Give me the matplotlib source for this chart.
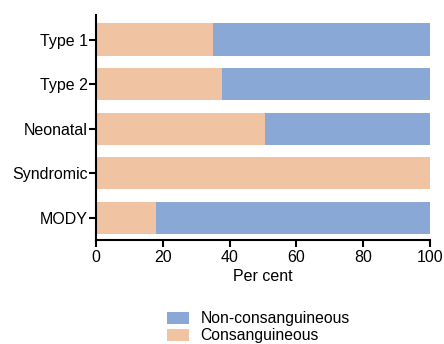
import matplotlib
matplotlib.use("Agg")
import matplotlib.pyplot as plt
import numpy as np

plt.rcParams['font.family'] = ['Liberation Sans', 'DejaVu Sans']

categories = ["Type 1", "Type 2", "Neonatal", "Syndromic", "MODY"]
consanguineous = [35, 37.7, 50.7, 100, 18]
non_consanguineous = [65, 62.3, 49.3, 0, 82]

peach = "#F0C3A3"
blue = "#89A8D6"

fig = plt.figure(figsize=(4.44, 3.44), dpi=100)
ax = fig.add_axes([96/444, 1 - 240/344, (430-96)/444, (240-15)/344])

y = np.arange(len(categories))[::-1]
h = 0.72
b1 = ax.barh(y, consanguineous, height=h, color=peach, label="Consanguineous")
b2 = ax.barh(y, non_consanguineous, left=consanguineous, height=h, color=blue,
             label="Non-consanguineous")

ax.set_yticks(y)
ax.set_yticklabels(categories, fontsize=11.5)
ax.set_ylim(-0.5, 4.55)
ax.set_xlim(0, 100)
ax.set_xticks([0, 20, 40, 60, 80, 100])
ax.tick_params(axis='x', labelsize=11.5, width=1.5, length=5, pad=2)
ax.tick_params(axis='y', width=1.5, length=5, pad=1)
ax.set_xlabel("Per cent", fontsize=11.5, labelpad=3)
for s in ["top", "right"]:
    ax.spines[s].set_visible(False)
for s in ["left", "bottom"]:
    ax.spines[s].set_linewidth(1.5)

fig.legend([b2, b1], ["Non-consanguineous", "Consanguineous"],
           loc="upper left", bbox_to_anchor=(167/444, 1 - 311/344),
           frameon=False, fontsize=11.3, handlelength=1.4, handleheight=0.8,
           labelspacing=0.15, handletextpad=0.75, borderaxespad=0, borderpad=0)

fig.savefig("out.png", dpi=100)
